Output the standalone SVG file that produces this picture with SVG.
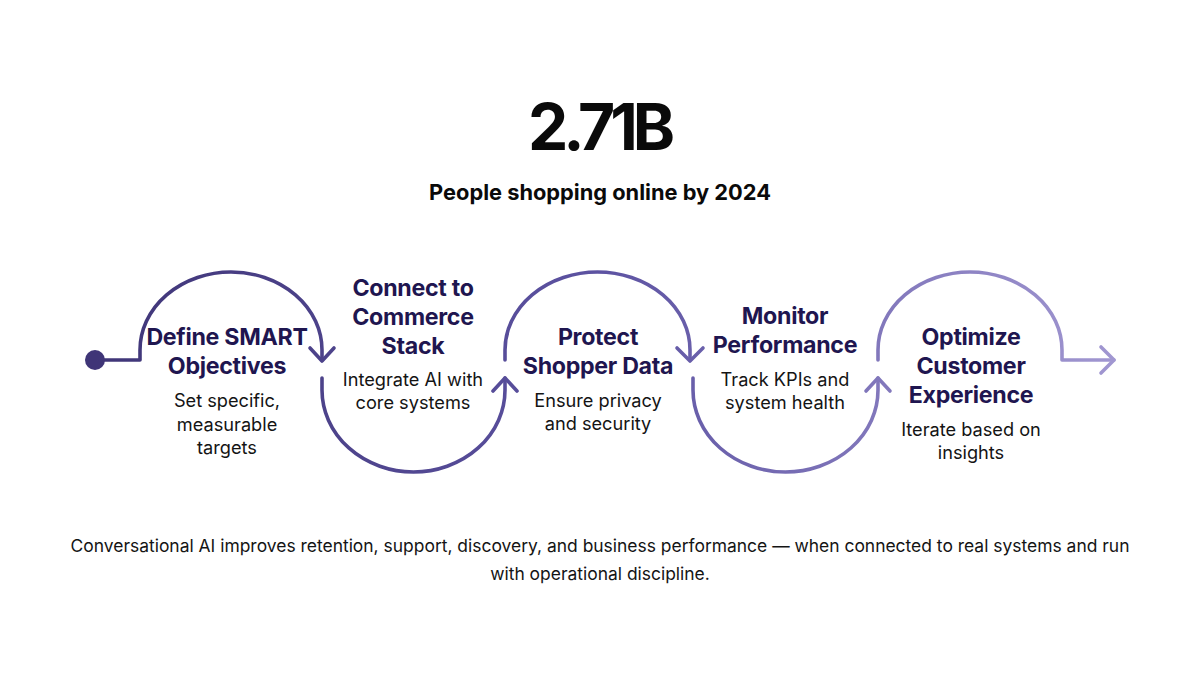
<svg xmlns="http://www.w3.org/2000/svg" width="1200" height="675" viewBox="0 0 1200 675">
<defs>
<linearGradient id="g" gradientUnits="userSpaceOnUse" x1="95" y1="0" x2="1115" y2="0">
<stop offset="0" stop-color="#3f3577"/>
<stop offset="0.5" stop-color="#5d53a2"/>
<stop offset="1" stop-color="#a197d1"/>
</linearGradient>
</defs>
<style>
.ln{fill:none;stroke:url(#g);stroke-width:3.6;stroke-linecap:round;stroke-linejoin:round}
.t{font-family:Inter,"Liberation Sans",sans-serif;font-weight:700;font-size:23.2px;fill:#1f1650;text-anchor:middle;letter-spacing:-0.3px}
.d{font-family:Inter,"Liberation Sans",sans-serif;font-size:18.2px;fill:#141414;text-anchor:middle}
.f{font-family:Inter,"Liberation Sans",sans-serif;font-size:17.45px;fill:#141414;text-anchor:middle}
</style>
<rect width="1200" height="675" fill="#ffffff"/>
<text x="599" y="150" font-family="Inter,'Liberation Sans',sans-serif" font-weight="700" font-size="64" fill="#0a0a0a" text-anchor="middle" letter-spacing="-5">2.71B</text>
<text x="600" y="200" font-family="Inter,'Liberation Sans',sans-serif" font-weight="700" font-size="21.8" fill="#0a0a0a" text-anchor="middle">People shopping online by 2024</text>
<g id="connectors">
<circle cx="95" cy="360" r="10" fill="#3f3577"/>
<path class="ln" d="M95,360 H140 V350 A91 78 0 0 1 322 350 V360"/>
<path class="ln" d="M310,348 L322,361 L334,348"/>
<path class="ln" d="M322,378 V390 A91.5 82 0 0 0 505 390 V378"/>
<path class="ln" d="M493,391 L505,378 L517,391"/>
<path class="ln" d="M505,360 V350 A92.5 78 0 0 1 690 350 V360"/>
<path class="ln" d="M677,348 L690,361 L703,348"/>
<path class="ln" d="M693,378 V390 A92.5 82 0 0 0 878 390 V378"/>
<path class="ln" d="M866,391 L878,378 L890,391"/>
<path class="ln" d="M878,360 V350 A92 78 0 0 1 1062 350 V360 H1114"/>
<path class="ln" d="M1101,347 L1114,360 L1101,373"/>
</g>
<g id="step1">
<text class="t" x="227" y="345">Define SMART</text>
<text class="t" x="227" y="374">Objectives</text>
<text class="d" x="227" y="407">Set specific,</text>
<text class="d" x="227" y="431">measurable</text>
<text class="d" x="227" y="454">targets</text>
</g>
<g id="step2">
<text class="t" x="413" y="296">Connect to</text>
<text class="t" x="413" y="325">Commerce</text>
<text class="t" x="413" y="354">Stack</text>
<text class="d" x="413" y="386">Integrate AI with</text>
<text class="d" x="413" y="409">core systems</text>
</g>
<g id="step3">
<text class="t" x="598" y="345">Protect</text>
<text class="t" x="598" y="374">Shopper Data</text>
<text class="d" x="598" y="407">Ensure privacy</text>
<text class="d" x="598" y="430">and security</text>
</g>
<g id="step4">
<text class="t" x="785" y="324">Monitor</text>
<text class="t" x="785" y="353">Performance</text>
<text class="d" x="785" y="386">Track KPIs and</text>
<text class="d" x="785" y="409">system health</text>
</g>
<g id="step5">
<text class="t" x="971" y="345">Optimize</text>
<text class="t" x="971" y="374">Customer</text>
<text class="t" x="971" y="403">Experience</text>
<text class="d" x="971" y="436">Iterate based on</text>
<text class="d" x="971" y="459">insights</text>
</g>
<g id="footer">
<text class="f" x="600" y="552">Conversational AI improves retention, support, discovery, and business performance — when connected to real systems and run</text>
<text class="f" x="600" y="580">with operational discipline.</text>
</g>
</svg>
